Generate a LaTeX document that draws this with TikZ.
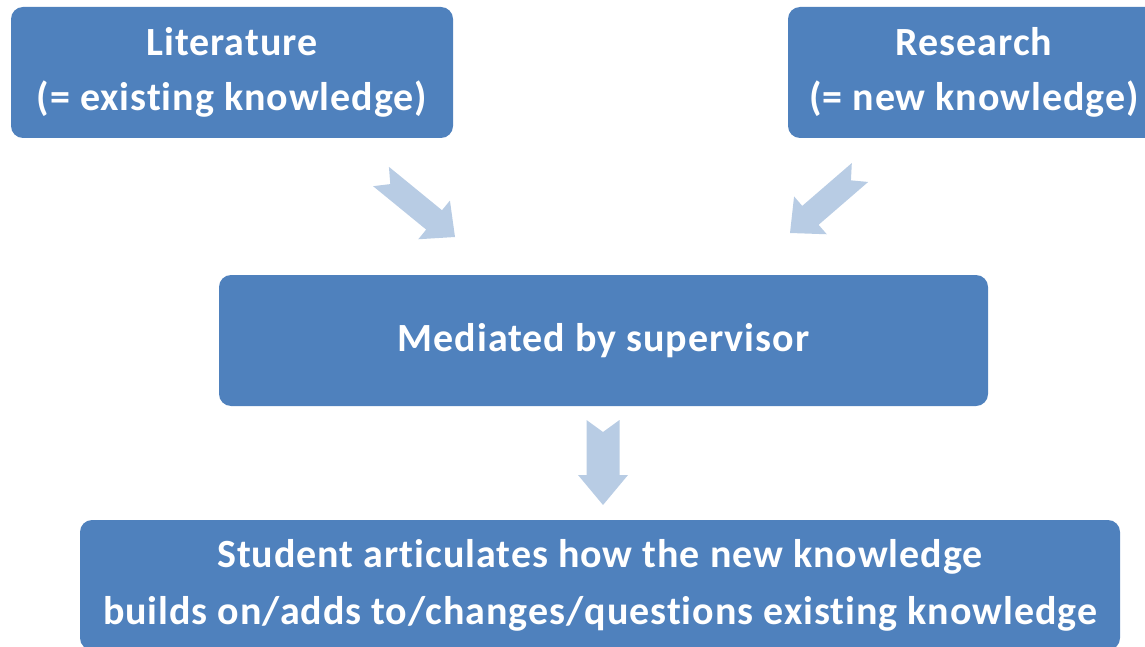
\documentclass[tikz,border=0pt]{standalone}
\usepackage{fontspec}
\setmainfont[LetterSpace=2.4,Ligatures=NoCommon]{Carlito}
\usepackage{xcolor}
\usetikzlibrary{calc,positioning}

\definecolor{boxblue}{HTML}{4F81BD}
\definecolor{arrowblue}{HTML}{B8CCE4}

% block arrow with notched tail: tail, tip, shaft half width, head half width, head length
\newcommand{\blockarrow}[5]{%
  \coordinate (#1-b) at ($(#2)!#5!(#1)$);
  \fill[arrowblue] ($(#1)!#3!90:(#2)$) -- ($(#1-b)!#3!-90:(#1)$) -- ($(#1-b)!#4!-90:(#1)$)
    -- (#2) -- ($(#1-b)!#4!90:(#1)$) -- ($(#1-b)!#3!90:(#1)$) -- ($(#1)!#3!-90:(#2)$)
    -- ($(#1)!12pt!(#2)$) -- cycle;
}

\begin{document}
\begin{tikzpicture}[x=1pt, y=-1pt]
		\tikzset{box/.style={fill=boxblue, rounded corners=12pt, text=white, align=center,
				font=\fontsize{40}{55}\selectfont\bfseries, inner sep=0pt}}
		\useasboundingbox (0,0) rectangle (1145,647);
		\node [box, minimum width=442pt, minimum height=131pt] (lit) at (232,72.5) {Literature\\(= existing knowledge)};
		\node [box, minimum width=372pt, minimum height=131pt] (res) at (974,72.5) {Research\\(= new knowledge)};
		\node [box, minimum width=769pt, minimum height=131pt] (med) at (603.5,340.5) {Mediated by supervisor};
		\node [box, minimum width=1040pt, minimum height=130pt, font=\fontsize{40}{57}\selectfont\bfseries] (stu) at (600,585)
			{Student articulates how the new knowledge\\builds on/adds to/changes/questions existing knowledge};
		% arrows between the boxes
		\coordinate (litTail) at (381,176.5);
		\coordinate (litTip) at (455,237);
		\coordinate (resTail) at (860,172.5);
		\coordinate (resTip) at (790,233);
		\coordinate (medTail) at (603,420);
		\coordinate (medTip) at (603,505);
		\blockarrow{litTail}{litTip}{12.5pt}{25pt}{27pt}
		\blockarrow{resTail}{resTip}{12.5pt}{25pt}{27pt}
		\blockarrow{medTail}{medTip}{16.5pt}{25pt}{30pt}
\end{tikzpicture}
\end{document}
